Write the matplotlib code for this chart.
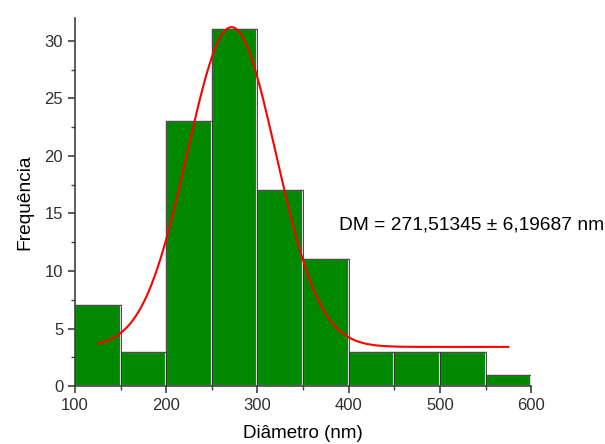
import numpy as np
import matplotlib
matplotlib.use("Agg")
import matplotlib.pyplot as plt

plt.rcParams['font.family'] = ['Liberation Sans', 'DejaVu Sans']

# Histogram of particle diameters
bin_edges = [100, 150, 200, 250, 300, 350, 400, 450, 500, 550, 600]
counts = [7, 3, 23, 31, 17, 11, 3, 3, 3, 1]

# Gaussian fit parameters
y0 = 3.4
amp = 27.8
xc = 271.51345
w = 48.5
fit_range = (125, 575)

fig = plt.figure(figsize=(6.05, 4.44), dpi=100)
ax = fig.add_axes([0.124, 0.1306, 0.754, 0.829])

lefts = np.array(bin_edges[:-1])
widths = np.diff(bin_edges)
ax.bar(lefts, counts, width=widths, align='edge', color='#008800',
       edgecolor='#d8d8d8', linewidth=1.5)
ax.bar(lefts, counts, width=widths, align='edge', fill=False,
       edgecolor='#303030', linewidth=0.6)

xf = np.linspace(fit_range[0], fit_range[1], 400)
yf = y0 + amp * np.exp(-(xf - xc) ** 2 / (2 * w ** 2))
ax.plot(xf, yf, color='#ff0000', lw=1.5)

ax.text(389, 14.0, 'DM = 271,51345 ± 6,19687 nm', fontsize=13.8,
        va='center', ha='left', color='black')

ax.set_xlim(100, 600)
ax.set_ylim(0, 32)
ax.set_xticks([100, 200, 300, 400, 500, 600])
ax.set_xticks([150, 250, 350, 450, 550], minor=True)
ax.set_yticks([0, 5, 10, 15, 20, 25, 30])
ax.set_yticks(np.arange(2.5, 32, 5), minor=True)

for s in ['top', 'right']:
    ax.spines[s].set_visible(False)
for s in ['left', 'bottom']:
    ax.spines[s].set_color('#404040')
    ax.spines[s].set_linewidth(1.2)

ax.tick_params(which='major', direction='out', length=5, width=1.2,
               colors='#404040', labelsize=12, labelcolor='#303030')
ax.tick_params(which='minor', direction='out', length=3, width=1.0,
               colors='#404040')

ax.set_xlabel('Diâmetro (nm)', fontsize=13.5, labelpad=9)
ax.set_ylabel('Frequência', fontsize=13.8, labelpad=8)

fig.savefig('out.png', dpi=100)
